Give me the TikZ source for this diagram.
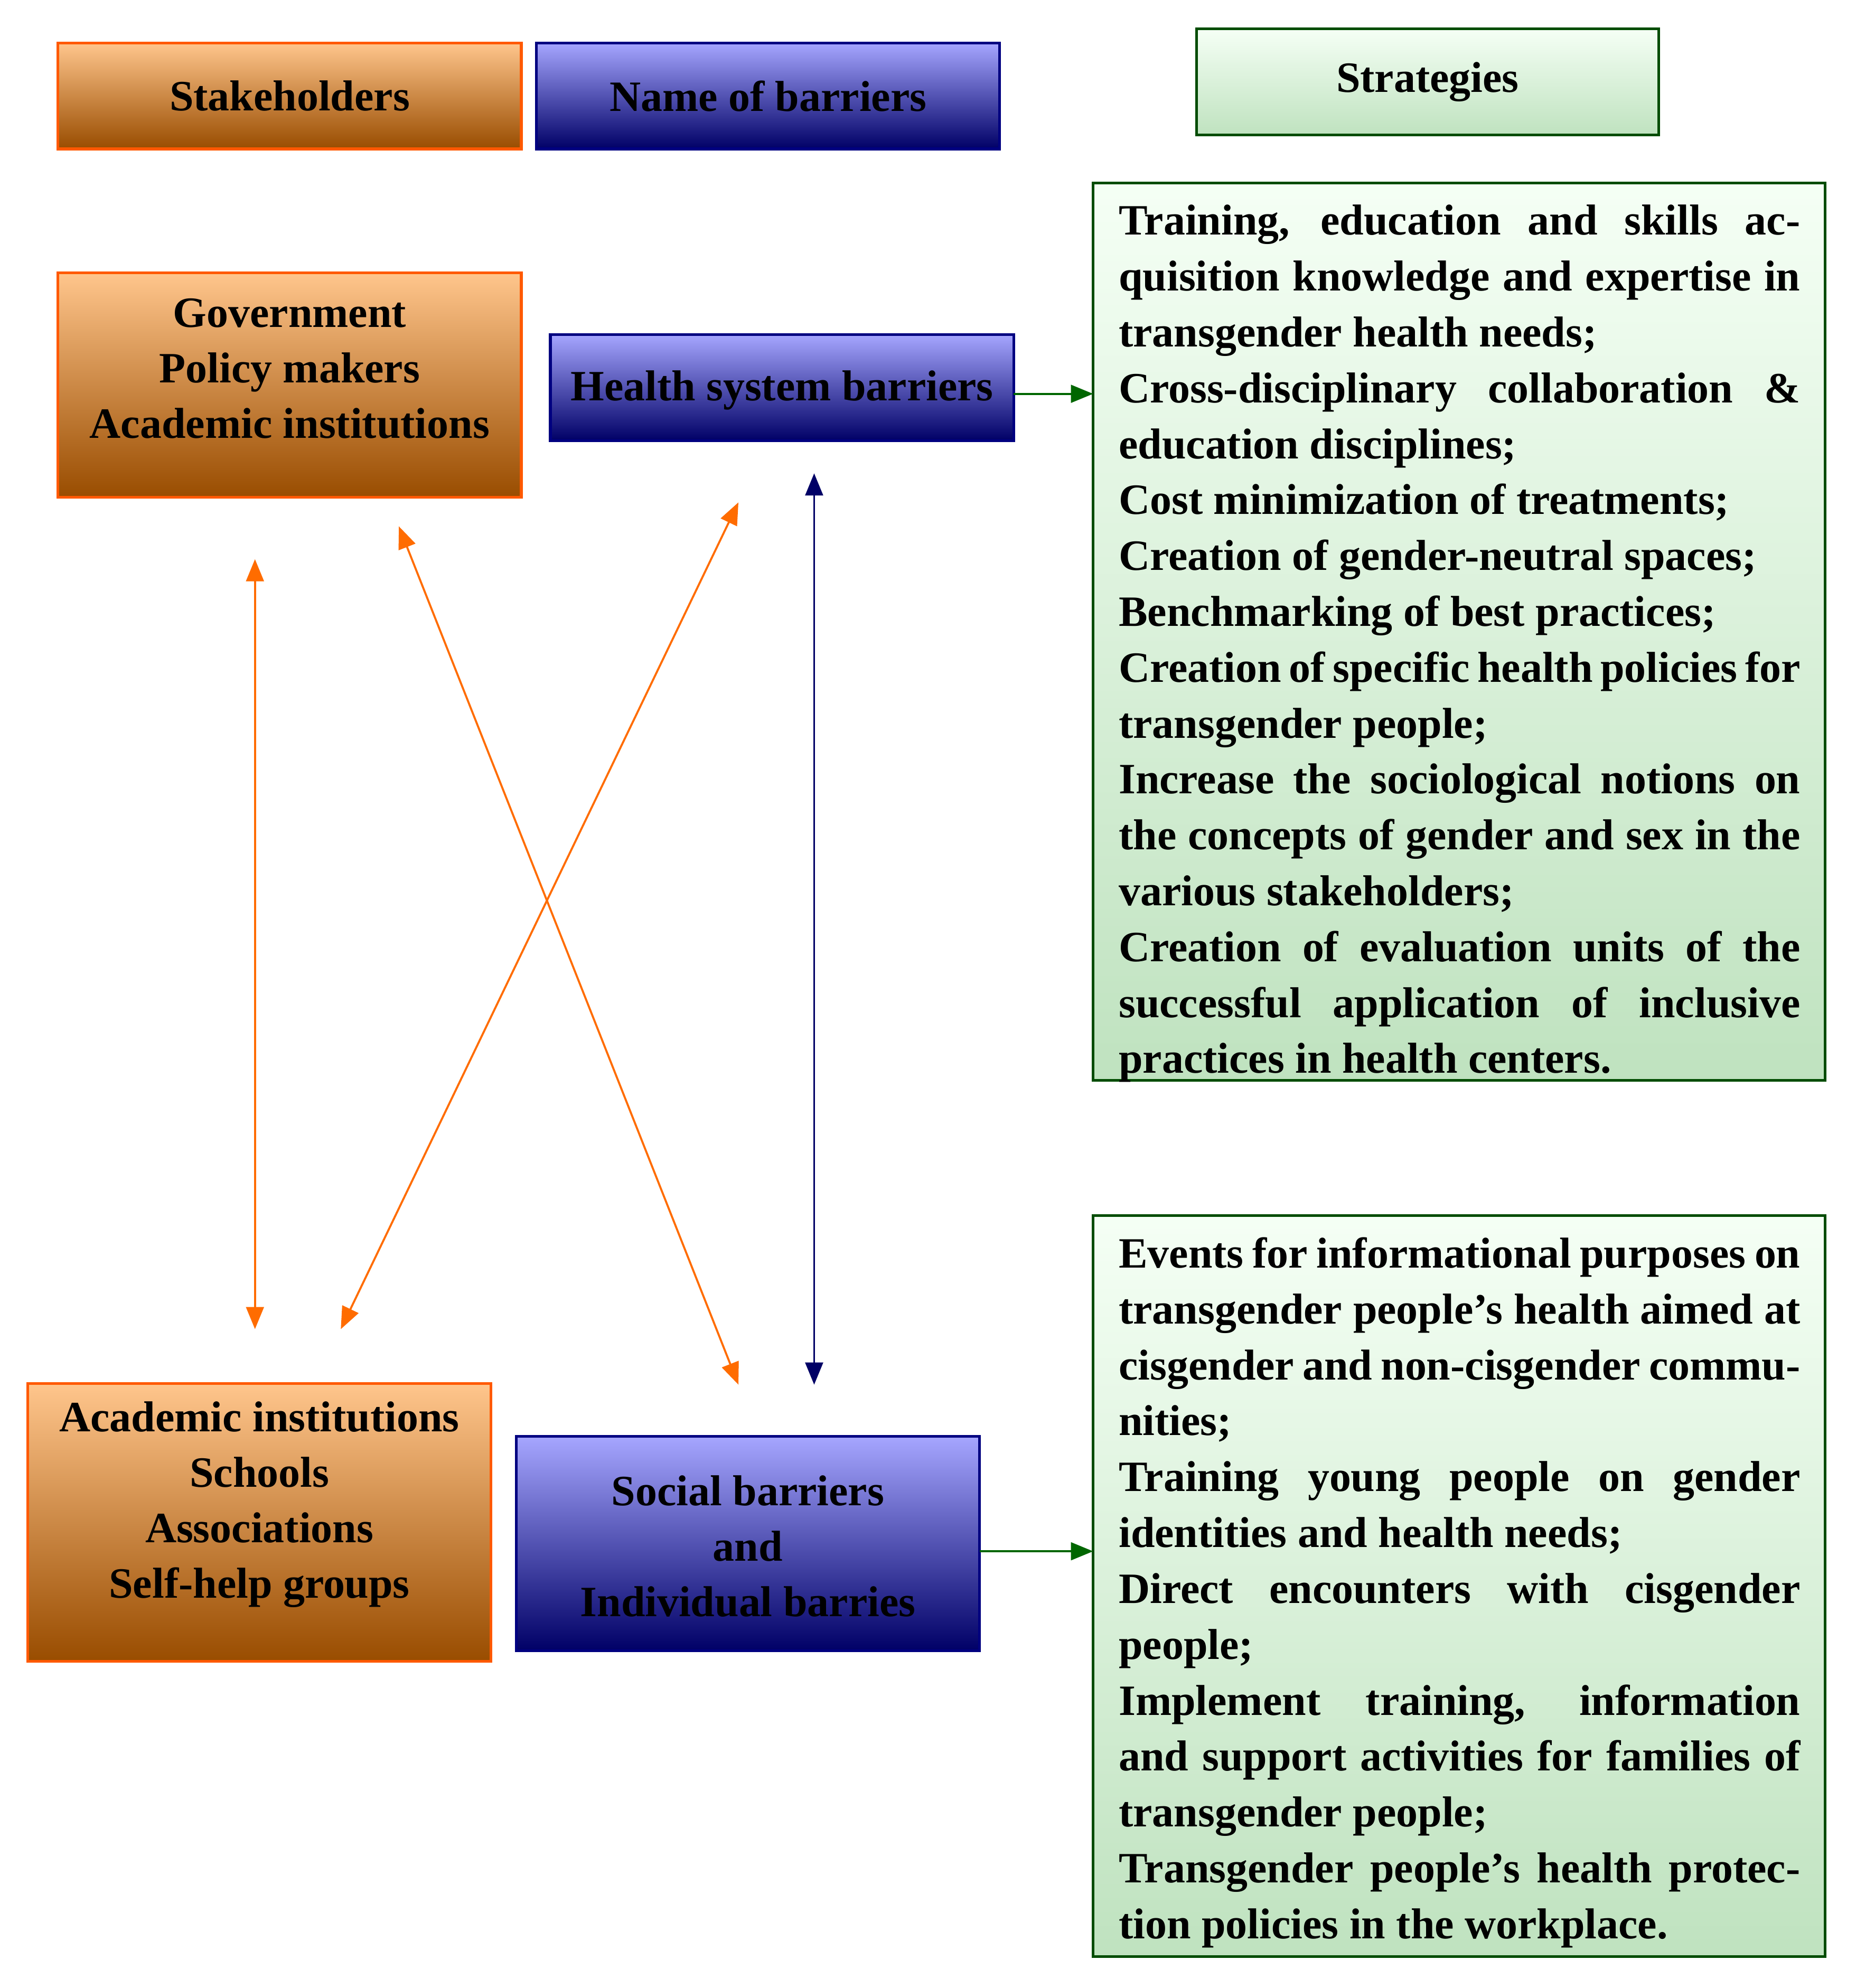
\documentclass[tikz,border=0pt]{standalone}
\usepackage{fontspec}
\setmainfont{Liberation Serif}
\usetikzlibrary{arrows.meta}
\begin{document}
\begin{tikzpicture}[x=0.02cm,y=-0.02cm,
  every node/.style={font=\bfseries\fontsize{19.5}{25}\selectfont, align=center, inner sep=0pt},
  orangebox/.style={draw=orange!70!red, line width=1.2pt, top color=orange!45!white, middle color=orange!75!white, bottom color=orange!60!black},
  bluebox/.style={draw=blue!50!black, line width=1.2pt, top color=blue!35!white, middle color=blue!55!white, bottom color=blue!40!black},
  greenbox/.style={draw=green!30!black, line width=1.2pt, top color=green!4!white, bottom color=green!55!black!25!white},
  oarr/.style={draw=orange!85!red, line width=0.9pt, {Triangle[length=10pt,width=8pt]}-{Triangle[length=10pt,width=8pt]}},
  barr/.style={draw=blue!40!black, line width=0.9pt, {Triangle[length=10pt,width=8pt]}-{Triangle[length=10pt,width=8pt]}},
  garr/.style={draw=green!40!black, line width=0.9pt, -{Triangle[length=10pt,width=8pt]}},
  gtext/.style={font=\bfseries\fontsize{19.5}{25.2}\selectfont, align=justify, text width=10.8cm}]
\useasboundingbox (0,0) rectangle (1470,1575);
\fill[white] (0,0) rectangle (1470,1575);
% header boxes
\draw[orangebox] (46,34) rectangle (413,118);
\node (stk) at (229.5,76) {Stakeholders};
\draw[bluebox] (425,34) rectangle (792,118);
\node (nob) at (608.5,76) {Name of barriers};
\draw[greenbox] (948,23) rectangle (1314,107);
\node (str) at (1131,65) {Strategies};
% government
\draw[orangebox] (46,216) rectangle (413,394);
\node (gov) at (229.5,292) {Government\\[0pt]Policy makers\\Academic institutions};
% health
\draw[bluebox] (436,265) rectangle (803,349);
\node (hsb) at (619.5,309) {Health system barriers};
% academic
\draw[orangebox] (22,1096) rectangle (389,1316);
\node (aca) at (205.5,1192) {Academic institutions\\Schools\\Associations\\Self-help groups};
% social
\draw[bluebox] (409,1138) rectangle (776,1308);
\node (soc) at (592.5,1225) {Social barriers\\and\\Individual barries};
% green boxes
\draw[greenbox] (866,145) rectangle (1446,856);
\node[gtext, anchor=north west] (g1) at (886,162) {Training, education and skills acquisition knowledge and expertise in transgender health needs;\\
Cross-disciplinary collaboration \& education disciplines;\\
Cost minimization of treatments;\\
Creation of gender-neutral spaces;\\
Benchmarking of best practices;\\
Creation of specific health policies for transgender people;\\
Increase the sociological notions on the concepts of gender and sex in the various stakeholders;\\
Creation of evaluation units of the successful application of inclusive practices in health centers.};
\draw[greenbox] (866,963) rectangle (1446,1550);
\node[gtext, anchor=north west] (g2) at (886,980) {Events for informational purposes on transgender people's health aimed at cisgender and non-cisgender communities;\\
Training young people on gender identities and health needs;\\
Direct encounters with cisgender people;\\
Implement training, information and support activities for families of transgender people;\\
Transgender people's health protection policies in the workplace.};
% arrow endpoints
\coordinate (a1) at (202,443); \coordinate (a2) at (202,1053);
\coordinate (b1) at (316,417); \coordinate (b2) at (585,1097);
\coordinate (c1) at (585,398); \coordinate (c2) at (270,1053);
\coordinate (d1) at (645,375); \coordinate (d2) at (645,1097);
\coordinate (h1) at (803,312); \coordinate (h2) at (866,312);
\coordinate (s1) at (776,1229); \coordinate (s2) at (866,1229);
\draw[oarr] (a1) -- (a2);
\draw[oarr] (b1) -- (b2);
\draw[oarr] (c1) -- (c2);
\draw[barr] (d1) -- (d2);
\draw[garr] (h1) -- (h2);
\draw[garr] (s1) -- (s2);
\end{tikzpicture}
\end{document}
